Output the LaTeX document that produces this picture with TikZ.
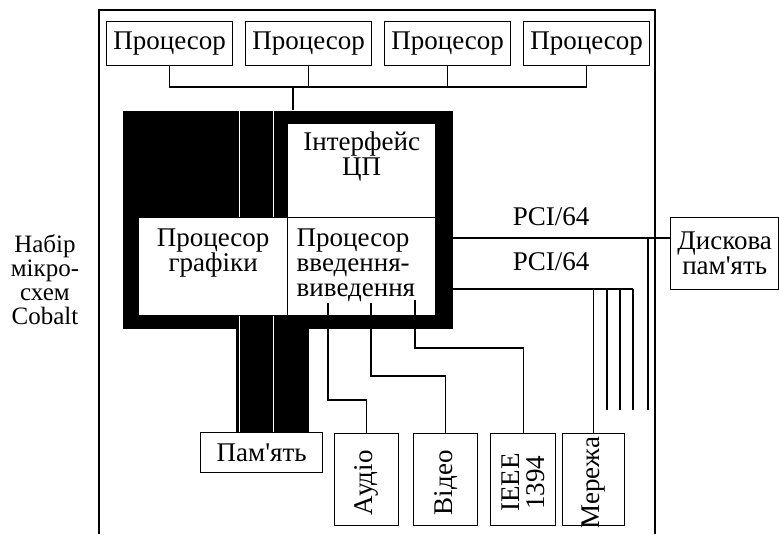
\documentclass[tikz,border=0pt]{standalone}
\usepackage{fontspec}
\setmainfont{Liberation Serif}
\usetikzlibrary{positioning,calc}

\begin{document}
\begin{tikzpicture}[x=0.5pt,y=-0.5pt,line width=0.7pt,
    font=\fontsize{13.5}{12.5}\selectfont,
    unit/.style={draw,inner sep=0pt,anchor=north west},
    inbox/.style={draw,fill=white,inner sep=0pt,anchor=north west},
    slab/.style={fill=black,inner sep=0pt,anchor=north west},
    wire/.style={line width=0.6pt}]
  \useasboundingbox (0,0) rectangle (779,534);
  % frame of the board
  \draw (99,534) -- (99,10) -- (655,10) -- (655,534);
  % processors and their bus
  \foreach \i/\x in {1/106,2/245,3/384,4/523}
    \node[unit,minimum width=63pt,minimum height=22pt] (cpu\i) at (\x,21) {Процесор};
  \coordinate (bus) at (293,87);
  % Cobalt chipset
  \node[slab,minimum width=165pt,minimum height=109pt] (chip) at (122,110) {};
  \node[slab,minimum width=36.5pt,minimum height=53pt] (stem) at (235,326) {};
  \foreach \x in {239,273}
    \draw[white,line width=0.5pt] (\x,110) -- (\x,432);
  \node[inbox,minimum width=74pt,minimum height=47pt] (cpuif) at (287,123) {};
  \node[inbox,minimum width=74.5pt,minimum height=49pt] (gfx) at (138,217) {};
  \node[inbox,minimum width=74pt,minimum height=49pt] (iop) at (287,217) {};
  \node[align=center,anchor=north,inner sep=0pt] (cpuif-t) at ($(cpuif.north)+(0,8)$) {Інтерфейс\\ЦП};
  \node[align=center,anchor=north,inner sep=0pt] (gfx-t) at ($(gfx.north)+(0,11)$) {Процесор\\графіки};
  \node[align=left,anchor=north west,inner sep=0pt] (iop-t) at ($(iop.north west)+(9,11)$) {Процесор\\введення-\\виведення};
  \node[align=center,inner sep=0pt,font=\fontsize{12.5}{12}\selectfont] (chipset) at (45,280) {Набір\\мікро-\\схем\\Cobalt};
  % memory and peripherals
  \node[unit,minimum width=61pt,minimum height=20pt] (mem) at (200,432) {Пам\textquotesingle ять};
  \foreach \n/\x/\w/\t in {audio/334/32/Аудіо,video/413/32/Відео,ieee/490/32.5/{IEEE\\1394},net/562/31/Мережа}
  {
    \node[unit,minimum width=\w pt,minimum height=46pt] (\n) at (\x,433) {};
    \node[rotate=90,align=center,inner sep=0pt] (\n-t) at ($(\n)+(0,3)$) {\t};
  }
  \node[unit,minimum width=54pt,minimum height=36pt,align=center] (disk) at (670,217) {Дискова\\пам\textquotesingle ять};
  \node (pci-a) at (551,217) {PCI/64};
  \node (pci-b) at (551,262) {PCI/64};
  % connections
  \draw[wire] (cpu1.south) |- (bus) -| (cpu4.south);
  \draw[wire] (cpu2.south) -- (cpu2.south |- bus);
  \draw[wire] (cpu3.south) -- (cpu3.south |- bus);
  \draw[wire] (bus) -- (bus |- chip.north);
  \coordinate (io1) at (328,303);
  \coordinate (io2) at (371,303);
  \coordinate (io3) at (415,300);
  \draw[wire] (io1) |- (audio.north |- 0,400) -- (audio.north);
  \draw[wire] (io2) |- (video.north |- 0,376) -- (video.north);
  \draw[wire] (io3) |- (ieee.north |- 0,348) -- (ieee.north);
  \coordinate (pci1) at (452,238);
  \coordinate (pci2) at (452,289);
  \draw[wire] (pci1) -- (pci1 -| disk.west);
  \draw[wire] (pci2) -- (633,289);
  \draw[wire] (net.north) -- (net.north |- pci2);
  \foreach \x in {607,620,633}
    \draw[wire] (\x,289) -- (\x,410);
  \draw[wire] (648,238) -- (648,410);
\end{tikzpicture}
\end{document}
